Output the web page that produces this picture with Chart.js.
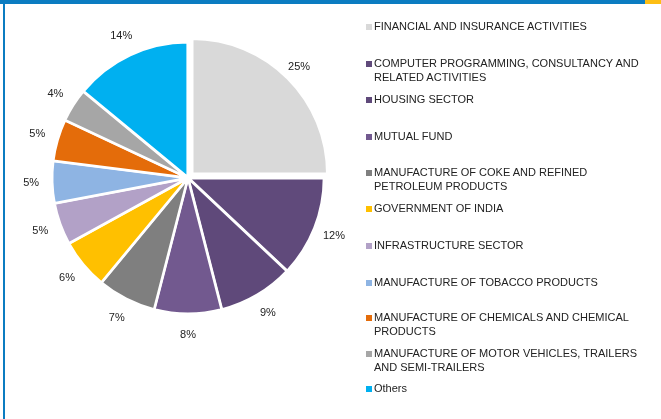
<!DOCTYPE html>
<html>
<head>
<meta charset="utf-8">
<script src="https://cdn.jsdelivr.net/npm/chart.js@4.4.1/dist/chart.umd.min.js"></script>
<style>
  body { margin: 0; background: #fff; }
  #frame {
    position: relative;
    width: 661px;
    height: 419px;
    overflow: hidden;
    font-family: "Liberation Sans", Arial, sans-serif;
    color: #222;
  }
  #topbar { position: absolute; left: 0; top: 0; width: 645px; height: 4px; background: #0B7CC1; }
  #topbar-end { position: absolute; left: 645px; top: 0; width: 16px; height: 4px; background: #FDBE14; }
  #leftbar { position: absolute; left: 3px; top: 0; width: 2px; height: 419px; background: #0B7CC1; }
  #pie-box { position: absolute; left: 0; top: 0; width: 376px; height: 356px; }
  #legend .item { position: absolute; left: 366px; width: 284px; font-size: 11px; line-height: 13.5px; }
  #legend .swatch { position: absolute; left: 0; top: 4px; width: 6px; height: 6px; }
  #legend .text { margin-left: 8px; }
</style>
</head>
<body>
<div id="frame">
  <div id="topbar"></div>
  <div id="topbar-end"></div>
  <div id="leftbar"></div>
  <div id="pie-box"><canvas id="sectorPie"></canvas></div>
  <div id="legend"></div>
</div>

<script>
// -------------------
// DATA

const sectors = [
  "FINANCIAL AND INSURANCE ACTIVITIES",
  "COMPUTER PROGRAMMING, CONSULTANCY AND RELATED ACTIVITIES",
  "HOUSING SECTOR",
  "MUTUAL FUND",
  "MANUFACTURE OF COKE AND REFINED PETROLEUM PRODUCTS",
  "GOVERNMENT OF INDIA",
  "INFRASTRUCTURE SECTOR",
  "MANUFACTURE OF TOBACCO PRODUCTS",
  "MANUFACTURE OF CHEMICALS AND CHEMICAL PRODUCTS",
  "MANUFACTURE OF MOTOR VEHICLES, TRAILERS AND SEMI-TRAILERS",
  "Others",
];

const shares = [25, 12, 9, 8, 7, 6, 5, 5, 5, 4, 14];

const sliceColors = [
  "#D9D9D9", "#604A7B", "#5F497A", "#72598F", "#7F7F7F", "#FFC000",
  "#B2A1C7", "#8EB4E3", "#E46C0A", "#A6A6A6", "#00B0F0",
];

// legend rows: vertical centre of each item's first line
const legendRows = [27, 64, 100, 137, 173, 209, 246, 283, 318, 354, 389];

// -------------------
// LEGEND

const legendHTML = document.getElementById("legend");
sectors.forEach((name, i) => {
  const item = document.createElement("div");
  item.className = "item";
  item.style.top = legendRows[i] - 7 + "px";
  item.innerHTML =
    `<span class="swatch" style="background:${sliceColors[i]}"></span>` +
    `<div class="text">${name}</div>`;
  legendHTML.appendChild(item);
});

// -------------------
// EXPLODED FIRST SLICE
// chart.js drops the offset on slices >= 90deg, so push it out by hand

const explodeFirst = {
  id: "explodeFirst",
  beforeDatasetDraw(chart, args) {
    const { ctx } = chart;
    args.meta.data.forEach((arc, i) => {
      ctx.save();
      if (i === 0) {
        const mid = (arc.startAngle + arc.endAngle) / 2;
        ctx.translate(Math.cos(mid) * 6, Math.sin(mid) * 6);
      }
      arc.draw(ctx, chart.chartArea);
      ctx.restore();
    });
    return false;
  },
};

// -------------------
// PERCENT LABELS OUTSIDE THE SLICES

const outsideLabels = {
  id: "outsideLabels",
  afterDatasetsDraw(chart) {
    const { ctx } = chart;
    const meta = chart.getDatasetMeta(0);
    ctx.save();
    ctx.font = '11px "Liberation Sans", Arial, sans-serif';
    ctx.fillStyle = "#222";
    ctx.textAlign = "center";
    ctx.textBaseline = "middle";
    meta.data.forEach((arc, i) => {
      const mid = (arc.startAngle + arc.endAngle) / 2;
      const r = arc.outerRadius + 22;
      ctx.fillText(shares[i] + "%", arc.x + Math.cos(mid) * r, arc.y + Math.sin(mid) * r);
    });
    ctx.restore();
  },
};

// -------------------
// PIE

const pieHTML = document.getElementById("sectorPie");
const sectorPie = new Chart(pieHTML, {
  type: "pie",
  data: {
    labels: sectors,
    datasets: [
      {
        data: shares,
        backgroundColor: sliceColors,
        borderColor: "#fff",
        borderWidth: 2.5,
        offset: [0, 3, 2, 2, 2, 2, 2, 2, 2, 2, 3],
      },
    ],
  },
  options: {
    responsive: true,
    maintainAspectRatio: false,
    animation: false,
    radius: 135,
    plugins: {
      legend: { display: false },
      tooltip: { enabled: false },
    },
  },
  plugins: [explodeFirst, outsideLabels],
});
</script>
</body>
</html>
